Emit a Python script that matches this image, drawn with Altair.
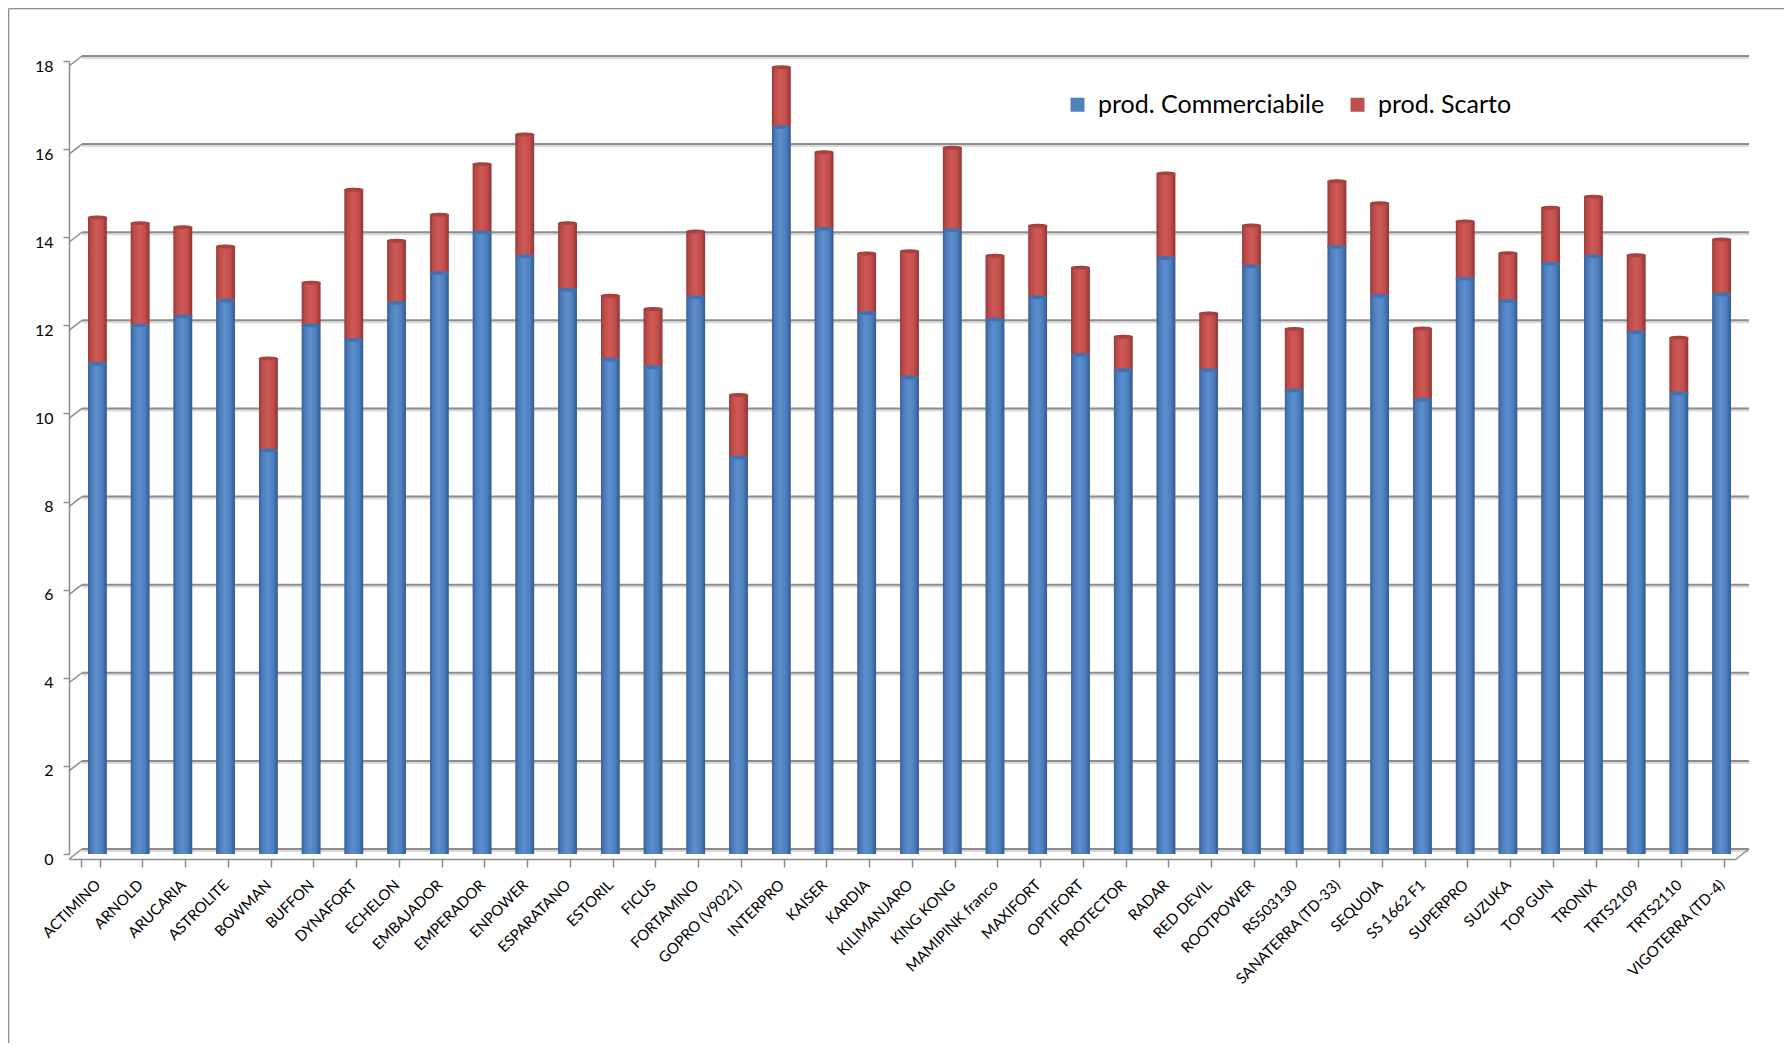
import altair as alt
import pandas as pd

cultivars = [
    "ACTIMINO", "ARNOLD", "ARUCARIA", "ASTROLITE", "BOWMAN", "BUFFON", "DYNAFORT",
    "ECHELON", "EMBAJADOR", "EMPERADOR", "ENPOWER", "ESPARATANO", "ESTORIL", "FICUS",
    "FORTAMINO", "GOPRO (V9021)", "INTERPRO", "KAISER", "KARDIA", "KILIMANJARO",
    "KING KONG", "MAMIPINK franco", "MAXIFORT", "OPTIFORT", "PROTECTOR", "RADAR",
    "RED DEVIL", "ROOTPOWER", "RS503130", "SANATERRA (TD-33)", "SEQUOIA", "SS 1662 F1",
    "SUPERPRO", "SUZUKA", "TOP GUN", "TRONIX", "TRTS2109", "TRTS2110", "VIGOTERRA (TD-4)",
]

commerciabile = [
    11.13, 12.00, 12.20, 12.56, 9.16, 12.00, 11.67, 12.51, 13.19, 14.11, 13.57, 12.81,
    11.22, 11.05, 12.64, 9.00, 16.50, 14.19, 12.28, 10.82, 14.16, 12.13, 12.64, 11.33,
    10.98, 13.53, 10.98, 13.34, 10.52, 13.78, 12.67, 10.31, 13.06, 12.55, 13.40, 13.57,
    11.84, 10.46, 12.70,
]

scarto = [
    3.32, 2.32, 2.03, 1.23, 2.09, 0.97, 3.41, 1.41, 1.32, 1.55, 2.76, 1.51,
    1.45, 1.32, 1.49, 1.42, 1.36, 1.74, 1.35, 2.86, 1.87, 1.45, 1.62, 1.98,
    0.76, 1.92, 1.29, 0.93, 1.40, 1.49, 2.10, 1.62, 1.30, 1.09, 1.27, 1.35,
    1.75, 1.26, 1.25,
]

series_names = ["prod. Commerciabile", "prod. Scarto"]
series_colors = ["#4F81BD", "#C0504D"]
y_ticks = [0, 2, 4, 6, 8, 10, 12, 14, 16, 18]

rows = []
for c, a, b in zip(cultivars, commerciabile, scarto):
    rows.append({"cultivar": c, "serie": series_names[0], "lo": 0.0, "hi": a})
    rows.append({"cultivar": c, "serie": series_names[1], "lo": a, "hi": a + b})
df = pd.DataFrame(rows)
grid_df = pd.DataFrame({"v": y_ticks})

FONT = "Lato"
GRID = "#8C8C8C"
W, H = 1667, 793
DEPTH_X, DEPTH_Y = 13, 5

x_enc = alt.X(
    "cultivar:N",
    sort=cultivars,
    scale=alt.Scale(paddingInner=0.565, paddingOuter=0.2825),
    axis=alt.Axis(
        title=None, labelAngle=-45, labelAlign="right", labelBaseline="middle",
        labelFontSize=15, labelFont=FONT, labelColor="#000000",
        labelPadding=15, labelOffset=7, labelOverlap=False, labelBound=False,
        tickBand="extent", tickSize=8, tickColor=GRID, tickWidth=1.5,
        domainColor=GRID, domainWidth=1.5, offset=5, grid=False,
    ),
)
y_scale = alt.Scale(domain=[0, 18], nice=False)
y_axis = alt.Axis(
    title=None, values=y_ticks, grid=False,
    domainColor=GRID, domainWidth=1.5, tickColor=GRID, tickSize=6, tickWidth=1.5,
    labelFontSize=16, labelFont=FONT, labelColor="#000000", labelPadding=10,
    labelOffset=5,
)

# back-wall gridlines and their connectors to the front axis
grid_back = alt.Chart(grid_df).mark_rule(
    color=GRID, strokeWidth=2, yOffset=-DEPTH_Y
).encode(
    y=alt.Y("v:Q", scale=y_scale, axis=y_axis),
    x=alt.value(DEPTH_X), x2=alt.value(W + DEPTH_X),
)
grid_shadow = alt.Chart(grid_df).mark_rule(
    color="#DADADA", strokeWidth=2, yOffset=-DEPTH_Y + 2
).encode(
    y=alt.Y("v:Q", scale=y_scale),
    x=alt.value(DEPTH_X), x2=alt.value(W + DEPTH_X),
)
grid_conn = alt.Chart(grid_df).mark_rule(
    color=GRID, strokeWidth=1.5, yOffset=DEPTH_Y, y2Offset=-DEPTH_Y
).encode(
    y=alt.Y("v:Q", scale=y_scale), y2="v:Q",
    x=alt.value(0), x2=alt.value(DEPTH_X),
)
floor_right = alt.Chart(pd.DataFrame({"v": [0]})).mark_rule(
    color=GRID, strokeWidth=1.5, yOffset=DEPTH_Y, y2Offset=-DEPTH_Y
).encode(
    y=alt.Y("v:Q", scale=y_scale), y2="v:Q",
    x=alt.value(W), x2=alt.value(W + DEPTH_X),
)

base = alt.Chart(df)

legend_layer = base.mark_bar(xOffset=7).encode(
    x=x_enc,
    y=alt.Y("hi:Q", scale=y_scale),
    y2="lo:Q",
    color=alt.Color(
        "serie:N",
        scale=alt.Scale(domain=series_names, range=series_colors),
        legend=alt.Legend(
            title=None, orient="none", legendX=996, legendY=31,
            direction="horizontal", symbolType="square", symbolSize=196,
            symbolStrokeWidth=0, labelFontSize=25, labelFont=FONT,
            labelColor="#000000", labelLimit=500, labelOffset=8,
            columnPadding=20,
        ),
    ),
)


def grad(stops):
    return alt.Gradient(
        gradient="linear", x1=0, x2=1, y1=0, y2=0,
        stops=[alt.GradientStop(color=c, offset=o) for o, c in stops],
    )


blue_grad = grad([(0, "#375F96"), (0.15, "#4A79B6"), (0.45, "#5C8FD0"),
                  (0.75, "#4E80BE"), (1, "#335A90")])
red_grad = grad([(0, "#983835"), (0.15, "#B94B48"), (0.45, "#CF5956"),
                 (0.75, "#C24F4C"), (1, "#923533")])

blue_layer = base.transform_filter(
    alt.datum.serie == series_names[0]
).mark_bar(xOffset=7, color=blue_grad).encode(
    x=x_enc, y=alt.Y("hi:Q", scale=y_scale), y2="lo:Q"
)
red_layer = base.transform_filter(
    alt.datum.serie == series_names[1]
).mark_bar(xOffset=7, color=red_grad).encode(
    x=x_enc, y=alt.Y("hi:Q", scale=y_scale), y2="lo:Q"
)

ELLIPSE = "M -1 0 A 1 0.2 0 1 1 1 0 A 1 0.2 0 1 1 -1 0 Z"
blue_cap = base.transform_filter(
    alt.datum.serie == series_names[0]
).mark_point(
    shape=ELLIPSE, size=380, filled=True, color="#4272AE", opacity=1, xOffset=7
).encode(x=x_enc, y=alt.Y("hi:Q", scale=y_scale))
red_cap = base.transform_filter(
    alt.datum.serie == series_names[1]
).mark_point(
    shape=ELLIPSE, size=380, filled=True, color="#A8423F", opacity=1, xOffset=7
).encode(x=x_enc, y=alt.Y("hi:Q", scale=y_scale))

frame_left = alt.Chart(pd.DataFrame({"k": [0]})).mark_rule(
    color=GRID, strokeWidth=1.5
).encode(x=alt.value(-60.5), y=alt.value(-52.5), y2=alt.value(990))
frame_top = alt.Chart(pd.DataFrame({"k": [0]})).mark_rule(
    color=GRID, strokeWidth=1.5
).encode(x=alt.value(-60.5), x2=alt.value(1720), y=alt.value(-52.5))

chart = alt.layer(
    grid_shadow, grid_back, grid_conn, floor_right,
    legend_layer, blue_layer, red_layer, blue_cap, red_cap,
    frame_left, frame_top,
).properties(
    width=W, height=H,
    padding={"left": 61, "top": 53, "right": 48, "bottom": 189},
    autosize=alt.AutoSizeParams(type="none"),
    background="#FFFFFF",
).configure_view(stroke=None)

chart.save("out.html", embed_options={"renderer": "svg", "actions": False})
